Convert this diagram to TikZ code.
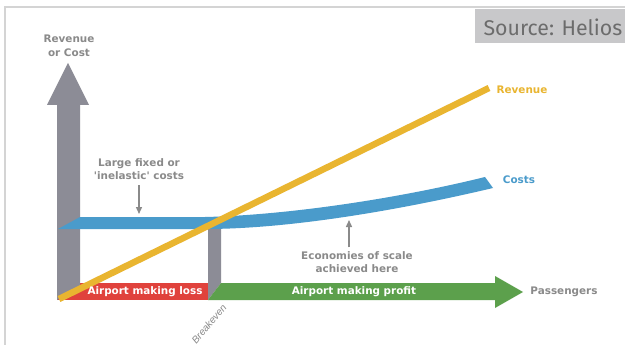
\documentclass[tikz,border=0pt]{standalone}
\usepackage{fontspec}
\newfontfamily\lblfont{DejaVu Sans}
\newfontfamily\srcfont{Fira Sans}
\newfontfamily\bkfont{Liberation Sans}
\usetikzlibrary{arrows.meta}
\definecolor{axisgray}{HTML}{8C8C96}
\definecolor{txtgray}{HTML}{8A8A8A}
\definecolor{costblue}{HTML}{4A9BCB}
\definecolor{revyellow}{HTML}{E9B530}
\definecolor{lossred}{HTML}{E0423C}
\definecolor{profitgreen}{HTML}{5CA04C}
\definecolor{framegray}{HTML}{D4D4D4}
\definecolor{srcbox}{HTML}{C8C8CA}
\definecolor{srctext}{HTML}{6C6C6C}
\begin{document}
\begin{tikzpicture}[x=1pt,y=-1pt,
  lbl/.style={font=\lblfont\bfseries\fontsize{10.4}{13}\selectfont, text=txtgray, align=center, inner sep=0pt},
  bartext/.style={font=\lblfont\bfseries\fontsize{10.4}{12}\selectfont, text=white, inner sep=0pt},
  note/.style={draw=txtgray, line width=1.4pt, -{Triangle[width=6pt,length=7pt]}}]
\useasboundingbox (0,0) rectangle (625,345);
\fill[white] (0,0) rectangle (625,345);
% frame
\draw[framegray, line width=1.5pt] (5,345) -- (5,7) -- (625,7);
% source box
\fill[srcbox] (475,9) rectangle (625,43);
\node[font=\srcfont\fontsize{21.3}{24}\selectfont, text=srctext, inner sep=0pt] (src) at (553,27) {Source: Helios};
% loss bar
\fill[lossred] (57,283) rectangle (208,300);
% y axis block arrow
\fill[axisgray] (57,300) -- (57,105) -- (47,105) -- (68,63) -- (89,105) -- (80,105) -- (80,289) -- cycle;
% breakeven bar
\fill[axisgray] (208,226) -- (221,226) -- (221,283) -- (208,300) -- cycle;
% profit arrow
\fill[profitgreen] (208,300) -- (221,283) -- (495,283) -- (495,276) -- (523,292) -- (495,308) -- (495,300) -- cycle;
% cost band
\fill[costblue] (58,229) -- (80,217) -- (205,217) .. controls (290,215) and (400,198) .. (485,177) -- (493,188) .. controls (400,210) and (290,229) .. (205,229) -- cycle;
% revenue line
\draw[revyellow, line width=6.5pt] (59,299) -- (489,88);
% labels
\node[lbl, font=\lblfont\bfseries\fontsize{10.4}{14}\selectfont] (ylbl) at (69,45.5) {Revenue\\or Cost};
\node[lbl, text=revyellow] (revlbl) at (522,90) {Revenue};
\node[lbl, text=costblue] (costlbl) at (519,180) {Costs};
\node[lbl] (paxlbl) at (564,292) {Passengers};
\node[bartext] (losslbl) at (145,292) {Airport making loss};
\node[bartext] (profitlbl) at (354,292) {Airport making profit};
\node[lbl] (fixedlbl) at (139,169.5) {Large fixed or\\'inelastic' costs};
\node[lbl] (econlbl) at (357,262) {Economies of scale\\achieved here};
\node[font=\bkfont\itshape\fontsize{10}{12}\selectfont, text=txtgray, rotate=50, inner sep=0pt] (bklbl) at (209,324) {Breakeven};
% annotation arrows
\coordinate (fixedpt) at (139,214);
\coordinate (econpt) at (349,220);
\draw[note, shorten <=5pt] (fixedlbl.south) -- (fixedpt);
\draw[note, shorten <=4pt] (econlbl.north -| econpt) -- (econpt);
\end{tikzpicture}
\end{document}
